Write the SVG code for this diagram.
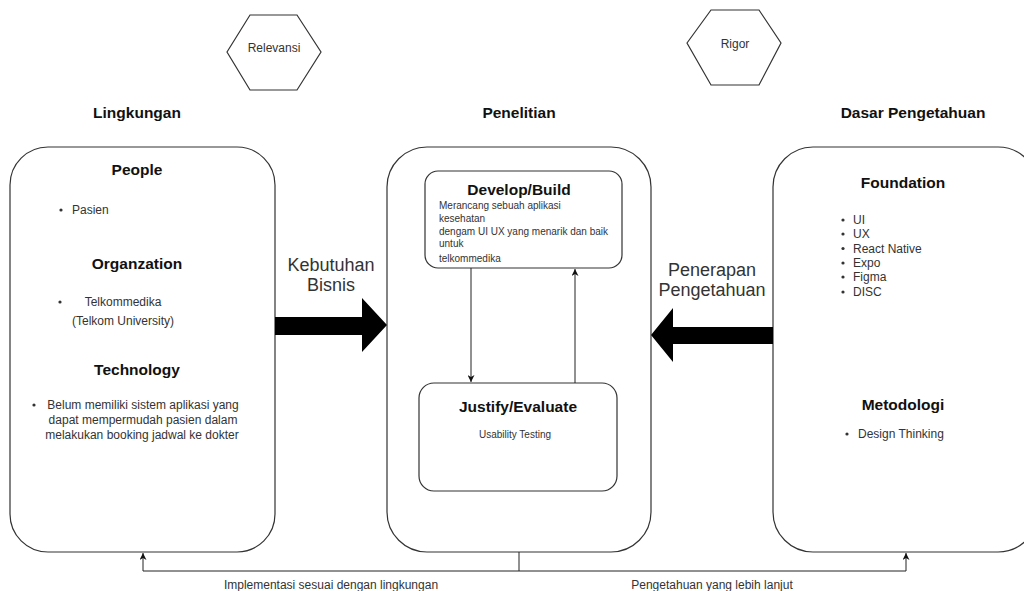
<svg xmlns="http://www.w3.org/2000/svg" width="1024" height="591" viewBox="0 0 1024 591">
<defs>
<style>
.box{fill:#fff;stroke:#333;stroke-width:1.2}
.ln{fill:none;stroke:#222;stroke-width:1}
.h{font-family:"Liberation Sans",Arial,sans-serif;font-weight:bold;font-size:15.5px;fill:#111;text-anchor:middle}
.t{font-family:"Liberation Sans",Arial,sans-serif;font-size:12px;fill:#333}
.s{font-family:"Liberation Sans",Arial,sans-serif;font-size:10px;fill:#333}
.big{font-family:"Liberation Sans",Arial,sans-serif;font-size:18px;fill:#333;text-anchor:middle}
.c{text-anchor:middle}
</style>
<marker id="ah" viewBox="0 0 10 10" refX="10" refY="5" markerWidth="7" markerHeight="7" orient="auto" markerUnits="userSpaceOnUse">
<path d="M0,0 L10,5 L0,10 L3,5 z" fill="#111"/>
</marker>
</defs>
<rect width="1024" height="591" fill="#fff"/>

<g id="relevansi">
<polygon class="box" points="227,52 250,15 297,15 321,52 297,90 250,90"/>
<text class="t c" x="274" y="52">Relevansi</text>
</g>
<g id="rigor">
<polygon class="box" points="687,43 711,10 759,10 781,43 759,85 711,85"/>
<text class="t c" x="735" y="48">Rigor</text>
</g>

<g id="titles">
<text class="h" x="137" y="118">Lingkungan</text>
<text class="h" x="519" y="118">Penelitian</text>
<text class="h" x="913" y="118">Dasar Pengetahuan</text>
</g>

<g id="lingkungan">
<rect class="box" x="10" y="147" width="265" height="405" rx="38" ry="38"/>
<text class="h" x="137" y="175">People</text>
<circle cx="61" cy="210" r="1.6" fill="#333"/>
<text class="t" x="72" y="214">Pasien</text>
<text class="h" x="137" y="269">Organzation</text>
<circle cx="60" cy="302" r="1.6" fill="#333"/>
<text class="t c" x="123" y="306">Telkommedika</text>
<text class="t c" x="123" y="325">(Telkom University)</text>
<text class="h" x="137" y="375">Technology</text>
<circle cx="34" cy="405" r="1.6" fill="#333"/>
<text class="t c" x="143" y="409">Belum memiliki sistem aplikasi yang</text>
<text class="t c" x="143" y="424">dapat mempermudah pasien dalam</text>
<text class="t c" x="142" y="439">melakukan booking jadwal ke dokter</text>
</g>

<g id="penelitian">
<rect class="box" x="387" y="147" width="264" height="405" rx="40" ry="40"/>
</g>

<g id="develop">
<rect class="box" x="425" y="171" width="197" height="97" rx="13" ry="13"/>
<text class="h" x="519" y="195">Develop/Build</text>
<text class="s" x="439" y="209">Merancang sebuah aplikasi</text>
<text class="s" x="439" y="222">kesehatan</text>
<text class="s" x="439" y="235">dengam UI UX yang menarik dan baik</text>
<text class="s" x="439" y="247">untuk</text>
<text class="s" x="439" y="262">telkommedika</text>
</g>

<g id="justify">
<rect class="box" x="419" y="383" width="198" height="108" rx="15" ry="15"/>
<text class="h" x="518" y="412">Justify/Evaluate</text>
<text class="s c" x="515" y="437.5">Usability Testing</text>
</g>

<g id="dasar">
<rect class="box" x="773" y="147" width="265" height="405" rx="40" ry="40"/>
<text class="h" x="903" y="188">Foundation</text>
<g class="t">
<circle cx="843" cy="220" r="1.6" fill="#333"/><text x="853" y="224">UI</text>
<circle cx="843" cy="234" r="1.6" fill="#333"/><text x="853" y="238">UX</text>
<circle cx="843" cy="248.5" r="1.6" fill="#333"/><text x="853" y="252.5">React Native</text>
<circle cx="843" cy="263" r="1.6" fill="#333"/><text x="853" y="267">Expo</text>
<circle cx="843" cy="277" r="1.6" fill="#333"/><text x="853" y="281">Figma</text>
<circle cx="843" cy="292" r="1.6" fill="#333"/><text x="853" y="296">DISC</text>
</g>
<text class="h" x="903" y="410">Metodologi</text>
<circle cx="847" cy="434" r="1.6" fill="#333"/>
<text class="t" x="858" y="438">Design Thinking</text>
</g>

<g id="connectors">
<line class="ln" x1="471" y1="268" x2="471" y2="382" marker-end="url(#ah)"/>
<line class="ln" x1="575" y1="383" x2="575" y2="269" marker-end="url(#ah)"/>
<polyline class="ln" points="519,552 519,571"/>
<polyline class="ln" points="519,571 143,571 143,553" marker-end="url(#ah)"/>
<polyline class="ln" points="519,571 906,571 906,553" marker-end="url(#ah)"/>
<polygon points="275,317 362,317 362,298 387,325 362,352 362,335 275,335" fill="#000"/>
<polygon points="773,327 673,327 673,308 651,335 673,362 673,344 773,344" fill="#000"/>
<text class="big" x="331" y="271">Kebutuhan</text>
<text class="big" x="331" y="291">Bisnis</text>
<text class="big" x="712" y="276">Penerapan</text>
<text class="big" x="712" y="296">Pengetahuan</text>
<text class="t c" x="331" y="589">Implementasi sesuai dengan lingkungan</text>
<text class="t c" x="712" y="589">Pengetahuan yang lebih lanjut</text>
</g>
</svg>
